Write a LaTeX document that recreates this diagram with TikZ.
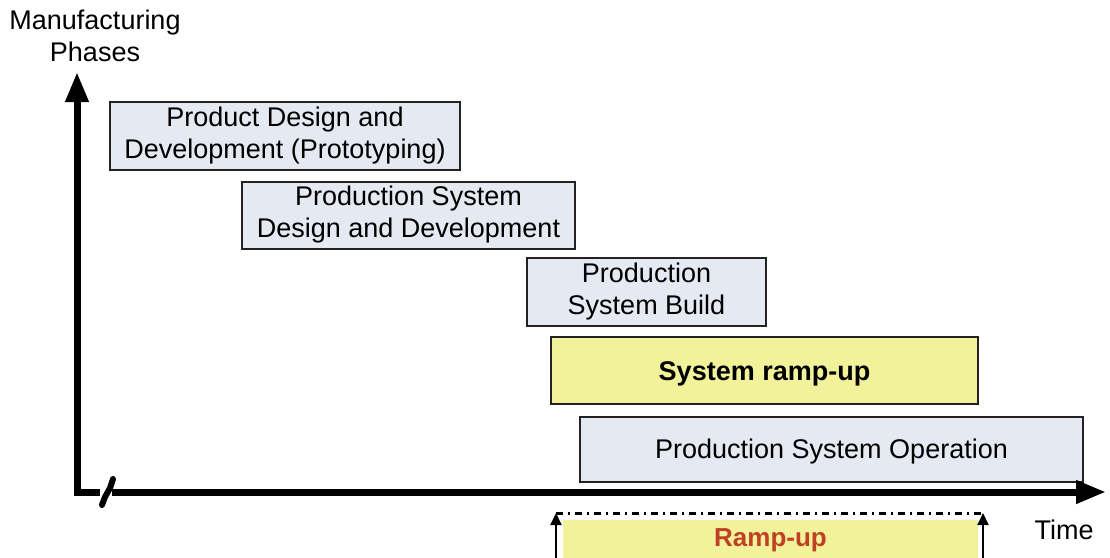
\documentclass[tikz,border=0pt]{standalone}
\usepackage{fontspec}
\setmainfont{Liberation Sans}
\usetikzlibrary{arrows.meta}
\definecolor{phasefill}{RGB}{228,233,242}
\definecolor{rampfill}{RGB}{242,242,154}
\definecolor{ramptext}{RGB}{192,64,38}
\definecolor{boxline}{RGB}{34,34,34}
\tikzset{
  phase/.style={draw=boxline, line width=2pt, fill=phasefill, inner sep=0pt, align=center,
    font=\fontsize{27}{32}\selectfont, execute at begin node={\rule{0pt}{25pt}}},
  rampbox/.style={phase, fill=rampfill, font=\fontsize{27}{32}\selectfont\bfseries},
  axisline/.style={line width=7pt, -{Triangle[length=30pt,width=22pt]}},
  label/.style={font=\fontsize{27}{32}\selectfont, align=center, inner sep=0pt},
  rampmark/.style={line width=2pt, -{Triangle[length=12pt,width=11pt]}},
}
\begin{document}
\begin{tikzpicture}[x=1pt,y=-1pt]
\useasboundingbox (0,0) rectangle (1110,557);
\clip (0,0) rectangle (1110,557);

% phase boxes
\node[phase, minimum width=350pt, minimum height=68pt] (pdd) at (285,136) {Product Design and\\Development (Prototyping)};
\node[phase, minimum width=333pt, minimum height=67pt] (psd) at (408.5,215) {Production System\\Design and Development};
\node[phase, minimum width=239pt, minimum height=68pt] (psb) at (646.5,292) {Production\\System Build};
\node[rampbox, minimum width=427pt, minimum height=67pt] (sru) at (764.5,370.5) {System ramp-up};
\node[phase, minimum width=503pt, minimum height=65pt] (pso) at (831.5,449) {Production System Operation};

% axes
\coordinate (origin) at (77,492);
\coordinate (ytip) at (77,72);
\coordinate (xtip) at (1106,492);
\draw[axisline] (origin) -- (ytip);
\draw[axisline] ([xshift=-3.5pt]origin) -- (xtip);
% axis break
\fill[white] (100,487) rectangle (112,498);
\draw[line width=6pt, line cap=round, line join=round] (102,505) -- (105,497) -- (110,488) -- (113,479);

% axis labels
\node[label] (ylab) at (95,36) {Manufacturing\\Phases};
\node[label] (xlab) at (1064,530) {Time};

% ramp-up
\node[fill=rampfill, minimum width=415pt, minimum height=40pt, inner sep=0pt,
  font=\fontsize{26}{30}\selectfont\bfseries, text=ramptext] (ramp) at (770.5,540) {Ramp-up};
\coordinate (rs) at (556,513);
\coordinate (re) at (983,513);
\coordinate (rsb) at (556,560);
\coordinate (reb) at (983,560);
\draw[line width=3pt, dash pattern=on 7pt off 5pt on 2pt off 5pt] (rs) -- (re);
\draw[rampmark] (rsb) -- (rs);
\draw[rampmark] (reb) -- (re);
\end{tikzpicture}
\end{document}
